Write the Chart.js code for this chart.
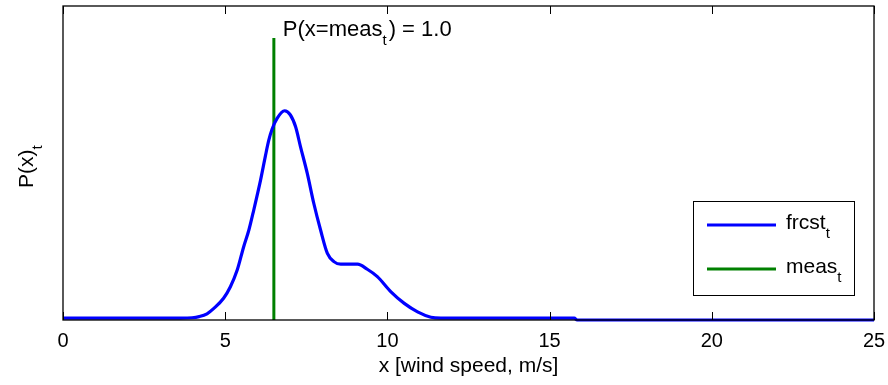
<!DOCTYPE html>
<html>
<head>
<meta charset="utf-8">
<script src="https://cdn.jsdelivr.net/npm/chart.js@4"></script>
<style>
  html, body { margin: 0; padding: 0; background: #fff; }
  #wrap { width: 888px; height: 385px; }
</style>
</head>
<body>
<div id="wrap"><canvas id="chart" width="888" height="385"></canvas></div>
<script>
// wind speed grid (m/s) and forecast probability
const windSpeed = [0, 3.62, 3.98, 4.2, 4.44, 4.65, 4.95, 5.16, 5.37, 5.57, 5.73, 5.88, 6.09, 6.24, 6.34, 6.45, 6.60,
                   6.83, 7.01, 7.17, 7.32, 7.53, 7.73, 7.94, 8.15, 8.35, 8.56, 9.08, 9.38, 9.69, 10.11, 10.52,
                   10.93, 11.34, 11.65, 15.76, 15.85, 25];
const frcst = [0.007, 0.007, 0.008, 0.012, 0.022, 0.041, 0.077, 0.118, 0.177, 0.260, 0.319, 0.390, 0.496, 0.582, 0.636,
               0.678, 0.715, 0.742, 0.727, 0.685, 0.615, 0.520, 0.414, 0.319, 0.236, 0.207, 0.198, 0.198, 0.180,
               0.154, 0.100, 0.059, 0.029, 0.010, 0.007, 0.007, 0, 0];
const measX = 6.5;
const measP = 1.0;
const xTicks = [0, 5, 10, 15, 20, 25];

const FONT = "'Liberation Sans', Arial, Helvetica, sans-serif";

function drawSub(ctx, parts, x, y, size) {
    // parts: [text, isSubscript]
    let cx = x;
    parts.forEach(([txt, sub]) => {
        ctx.font = (sub ? Math.round(size * 0.7) : size) + 'px ' + FONT;
        ctx.fillText(txt, cx, sub ? y + size * 0.42 : y);
        cx += ctx.measureText(txt).width + (sub ? 2 : 0);
    });
    return cx - x;
}

const decorations = {
    id: 'decorations',
    afterDraw(chart) {
        const ctx = chart.ctx;
        const a = chart.chartArea;
        const xs = chart.scales.x;
        ctx.save();
        // axes box
        ctx.strokeStyle = '#000';
        ctx.lineWidth = 1.3;
        ctx.strokeRect(a.left, a.top, a.right - a.left, a.bottom - a.top);
        // inward ticks top and bottom
        ctx.lineWidth = 1;
        xTicks.forEach(v => {
            const px = Math.round(xs.getPixelForValue(v)) + 0.5;
            ctx.beginPath();
            ctx.moveTo(px, a.bottom); ctx.lineTo(px, a.bottom - 8);
            ctx.moveTo(px, a.top); ctx.lineTo(px, a.top + 8);
            ctx.stroke();
        });
        ctx.fillStyle = '#000';
        ctx.textBaseline = 'alphabetic';
        ctx.textAlign = 'left';
        // annotation next to measurement
        const mx = xs.getPixelForValue(measX);
        drawSub(ctx, [['P(x=meas', false], ['t', true], [') = 1.0', false]], mx + 9, 36, 22);
        // y axis title
        ctx.save();
        ctx.translate(33, 188);
        ctx.rotate(-Math.PI / 2);
        drawSub(ctx, [['P(x)', false], ['t', true]], 0, 0, 21);
        ctx.restore();
        // legend
        const lx = 693, ly = 201, lw = 161, lh = 94;
        ctx.fillStyle = '#fff';
        ctx.fillRect(lx, ly, lw, lh);
        ctx.strokeStyle = '#000';
        ctx.lineWidth = 1;
        ctx.strokeRect(lx + 0.5, ly + 0.5, lw, lh);
        const items = [['frcst', '#0000ff', 225], ['meas', '#008000', 269]];
        items.forEach(([name, col, y]) => {
            ctx.strokeStyle = col;
            ctx.lineWidth = 3;
            ctx.beginPath();
            ctx.moveTo(707, y); ctx.lineTo(776, y);
            ctx.stroke();
            ctx.fillStyle = '#000';
            drawSub(ctx, [[name, false], ['t', true]], 786, y + 4, 21);
        });
        ctx.restore();
    }
};

new Chart(document.getElementById('chart'), {
    type: 'scatter',
    data: {
        datasets: [
            {
                label: 'frcst',
                data: windSpeed.map((x, i) => ({x: x, y: frcst[i]})),
                showLine: true,
                borderColor: '#0000ff',
                borderWidth: 3.2,
                pointRadius: 0,
                cubicInterpolationMode: 'monotone',
                clip: false
            },
            {
                label: 'meas',
                data: [{x: measX, y: 0}, {x: measX, y: measP}],
                showLine: true,
                borderColor: '#008000',
                borderWidth: 3,
                pointRadius: 0,
                clip: false
            }
        ]
    },
    options: {
        responsive: false,
        animation: false,
        layout: { padding: { left: 63, right: 14, top: 6, bottom: 0 } },
        plugins: { legend: { display: false }, tooltip: { enabled: false } },
        scales: {
            x: {
                type: 'linear',
                min: 0,
                max: 25,
                afterFit: s => { s.height = 65; },
                afterBuildTicks: s => { s.ticks = xTicks.map(v => ({value: v})); },
                grid: { display: false },
                border: { display: false },
                ticks: { color: '#000', padding: 1, font: { family: FONT, size: 20 } },
                title: {
                    display: true,
                    text: 'x [wind speed, m/s]',
                    color: '#000',
                    font: { family: FONT, size: 21 },
                    padding: { top: 0, bottom: 6 }
                }
            },
            y: {
                display: false,
                min: 0,
                max: 1.1135
            }
        }
    },
    plugins: [decorations]
});
</script>
</body>
</html>
